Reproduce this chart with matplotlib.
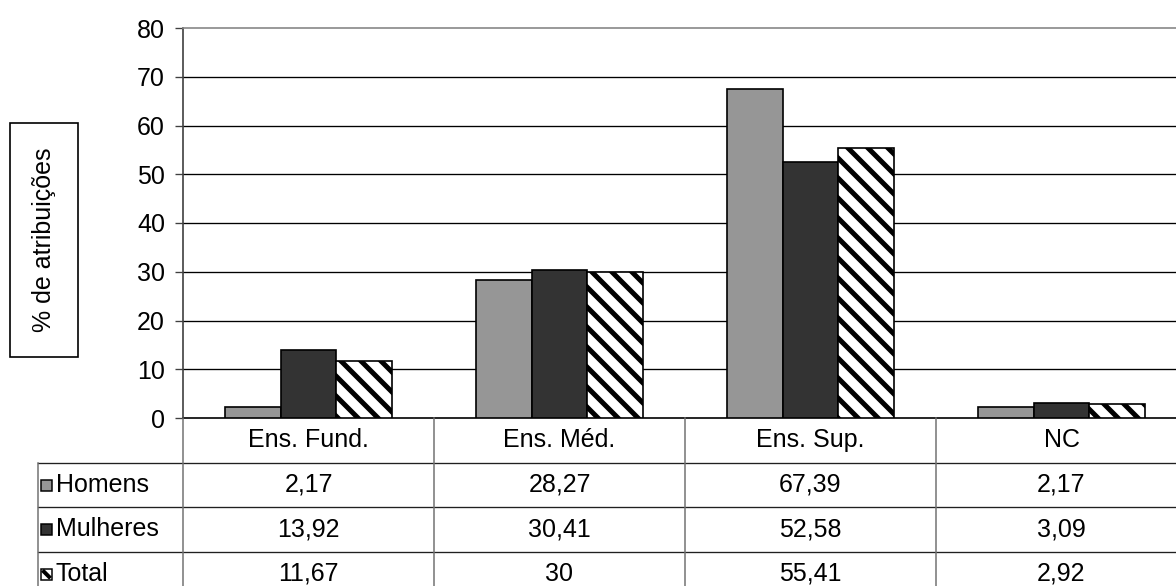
import numpy as np
import matplotlib
matplotlib.use("Agg")
import matplotlib.pyplot as plt
import matplotlib.patches as patches
import matplotlib.transforms as mtransforms
from matplotlib.lines import Line2D

plt.rcParams['font.family'] = ['Liberation Sans', 'DejaVu Sans']
plt.rcParams['hatch.linewidth'] = 3.0

# --- DATA ---
categories = ["Ens. Fund.", "Ens. Méd.", "Ens. Sup.", "NC"]
series_names = ["Homens", "Mulheres", "Total"]
homens = [2.17, 28.27, 67.39, 2.17]
mulheres = [13.92, 30.41, 52.58, 3.09]
total = [11.67, 30, 55.41, 2.92]
y_label = "% de atribuições"

# --- STYLE ---
W, H, DPI = 1176, 586, 120
FS = 15
STYLES = [
    {"facecolor": "#969696", "hatch": None},
    {"facecolor": "#333333", "hatch": None},
    {"facecolor": "white", "hatch": "\\\\"},
]

# plot area in pixels
AX_L, AX_R, AX_T, AX_B = 183, 1187, 28, 418
ROW_H = 44.5
TABLE_L = 38


def fmt(v):
    return f"{v:g}".replace('.', ',')


fig = plt.figure(figsize=(W / DPI, H / DPI), dpi=DPI)
ax = fig.add_axes([AX_L / W, 1 - AX_B / H, (AX_R - AX_L) / W, (AX_B - AX_T) / H])

# pixel transform (origin top-left) for the table and label box
px = mtransforms.Affine2D().scale(1 / W, -1 / H).translate(0, 1) + fig.transFigure

x = np.arange(len(categories))
bar_w = 1 / (3 + 1.5)
for i, (name, vals) in enumerate(zip(series_names, [homens, mulheres, total])):
    st = STYLES[i]
    ax.bar(x + (i - 1) * bar_w, vals, width=bar_w, color=st["facecolor"],
           edgecolor='black', linewidth=1.0, hatch=st["hatch"], zorder=3)

ax.set_xlim(-0.5, len(categories) - 0.5)
ax.set_ylim(0, 80)
ax.set_yticks(np.arange(0, 81, 10))
ax.set_xticks([])
for yv in range(10, 80, 10):
    ax.axhline(yv, color='black', lw=0.8, zorder=1)
ax.tick_params(axis='y', length=4.8, width=0.8, pad=6.0, labelsize=FS, color='#404040')
ax.spines['right'].set_visible(False)
ax.spines['top'].set_color('#888888')
ax.spines['top'].set_linewidth(1.0)
ax.spines['left'].set_color('#404040')
ax.spines['left'].set_linewidth(1.0)
ax.spines['bottom'].set_color('black')
ax.spines['bottom'].set_linewidth(1.0)

# --- DATA TABLE ---
col_w = (AX_R - AX_L) / len(categories)
n_rows = len(series_names)
bottom = AX_B + ROW_H * (n_rows + 1)

# horizontal rules
for r in range(1, n_rows + 2):
    yy = AX_B + r * ROW_H
    fig.add_artist(Line2D([TABLE_L, AX_R], [yy, yy], transform=px, color='#202020', lw=0.8))
# vertical rules
fig.add_artist(Line2D([TABLE_L, TABLE_L], [AX_B + ROW_H, bottom], transform=px, color='#707070', lw=0.9))
for c in range(len(categories) + 1):
    xx = AX_L + c * col_w
    fig.add_artist(Line2D([xx, xx], [AX_B, bottom], transform=px, color='#707070', lw=0.9))

# header row
for c, cat in enumerate(categories):
    fig.text(AX_L + (c + 0.5) * col_w, AX_B + ROW_H / 2, cat, transform=px,
             ha='center', va='center', fontsize=FS)

# series rows with legend keys
for r, (name, vals) in enumerate(zip(series_names, [homens, mulheres, total])):
    yc = AX_B + (r + 1.5) * ROW_H
    st = STYLES[r]
    fig.add_artist(patches.Rectangle((41, yc - 5), 11, 11, transform=px,
                                     facecolor=st["facecolor"], edgecolor='black', lw=0.9))
    if st["hatch"]:
        fig.add_artist(Line2D([42.5, 50.5], [yc - 3.5, yc + 4.5], transform=px,
                              color='black', lw=2.4, solid_capstyle='butt'))
    fig.text(56, yc, name, transform=px, ha='left', va='center', fontsize=FS)
    for c, v in enumerate(vals):
        fig.text(AX_L + (c + 0.5) * col_w, yc, fmt(v), transform=px,
                 ha='center', va='center', fontsize=FS)

# y label in a box
fig.add_artist(patches.Rectangle((10, 123), 68, 234, transform=px,
                                 facecolor='white', edgecolor='black', lw=1.0))
fig.text(44, 240, y_label, transform=px, rotation=90, ha='center', va='center', fontsize=FS)

fig.savefig("out.png", dpi=DPI)
